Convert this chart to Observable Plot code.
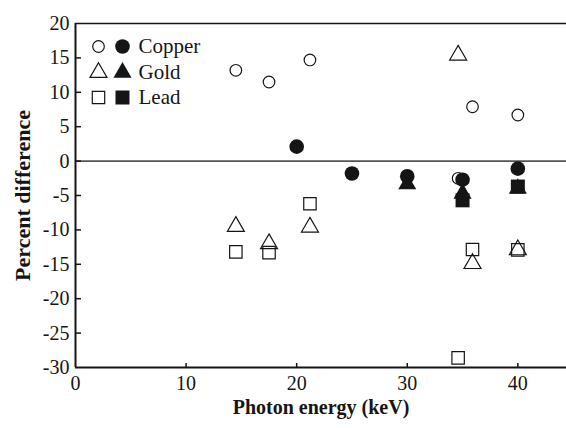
<!DOCTYPE html>
<html><head><meta charset="utf-8">
<script src="https://cdn.jsdelivr.net/npm/d3@7"></script>
<script src="https://cdn.jsdelivr.net/npm/@observablehq/plot@0.6"></script>
<style>body{margin:0;background:#fff}</style>
</head><body><div id="chart"></div>
<script>
// Open symbols: energies and values per metal
const openEnergy = [14.5, 17.5, 21.2, 34.6, 35.9, 40];
const copperOpen = [13.2, 11.5, 14.7, -2.5, 7.9, 6.7];
const goldOpen = [-9.5, -12.0, -9.6, 15.4, -14.9, -12.9];
const leadOpen = [-13.2, -13.3, -6.2, -28.6, -12.85, -12.9];
// Filled symbols
const copperFilledEnergy = [20, 25, 30, 35, 40];
const copperFilled = [2.1, -1.8, -2.2, -2.7, -1.1];
const goldFilledEnergy = [30, 35, 40];
const goldFilled = [-3.35, -4.7, -4.0];
const leadFilledEnergy = [35, 40];
const leadFilled = [-5.7, -3.7];
const seriesNames = ["Copper", "Gold", "Lead"];
const yTicks = [-30, -25, -20, -15, -10, -5, 0, 5, 10, 15, 20];
const xTicks = [0, 10, 20, 30, 40];

const ink = "#151515";
const serif = "'Liberation Serif', 'Times New Roman', Times, serif";
const W = 566, H = 428, mL = 75, mR = 0, mT = 23, mB = 61;

const toRows = (xs, ys) => xs.map((x, i) => ({x, y: ys[i]}));
const sym = {
  Copper: {symbol: "circle", rOpen: 5.8, rFill: 7.3},
  Gold: {symbol: "triangle", rOpen: 6.3, rFill: 6.7},
  Lead: {symbol: "square", rOpen: 7.0, rFill: 7.9}
};
const openData = {Copper: toRows(openEnergy, copperOpen), Gold: toRows(openEnergy, goldOpen), Lead: toRows(openEnergy, leadOpen)};
const fillData = {Copper: toRows(copperFilledEnergy, copperFilled), Gold: toRows(goldFilledEnergy, goldFilled), Lead: toRows(leadFilledEnergy, leadFilled)};
const fmt = d => String(d);

const marks = [
  Plot.ruleY([0], {stroke: "#555", strokeWidth: 1.6}),
  Plot.ruleY([20], {stroke: ink, strokeWidth: 1.6}),
  Plot.ruleY([-30], {stroke: ink, strokeWidth: 2}),
  Plot.ruleX([0], {stroke: ink, strokeWidth: 2}),
  Plot.axisY({ticks: yTicks, tickFormat: fmt, tickSize: 0, tickPadding: 6, fontSize: 20, fontFamily: serif, fontVariant: "normal", label: null, fill: ink}),
  Plot.axisY({anchor: "right", ticks: yTicks.filter(t => t > -30 && t < 20), tickSize: 5, tickFormat: () => "", dx: -(W - mL - mR), label: null, strokeWidth: 1.5}),
  Plot.axisX({ticks: xTicks, tickFormat: fmt, tickSize: 0, tickPadding: 8, fontSize: 20, fontFamily: serif, fontVariant: "normal", label: null, fill: ink}),
  Plot.axisX({anchor: "top", ticks: xTicks.filter(t => t > 0), tickSize: 5, tickFormat: () => "", dy: H - mT - mB, label: null, strokeWidth: 1.5}),
];
for (const s of seriesNames) {
  marks.push(Plot.dot(openData[s], {x: "x", y: "y", symbol: sym[s].symbol, r: sym[s].rOpen, stroke: ink, strokeWidth: 1.2, fill: "none"}));
}
for (const s of seriesNames) {
  marks.push(Plot.dot(fillData[s], {x: "x", y: "y", symbol: sym[s].symbol, r: sym[s].rFill, fill: ink, stroke: "none"}));
}
// legend
const legendDy = [23, 49, 74];
seriesNames.forEach((s, i) => {
  marks.push(Plot.dot([s], {frameAnchor: "top-left", dx: 23, dy: legendDy[i], symbol: sym[s].symbol, r: sym[s].rOpen, stroke: ink, strokeWidth: 1.2, fill: "none"}));
  marks.push(Plot.dot([s], {frameAnchor: "top-left", dx: 47, dy: legendDy[i], symbol: sym[s].symbol, r: sym[s].rFill, fill: ink}));
  marks.push(Plot.text([s], {text: d => d, frameAnchor: "top-left", dx: 63, dy: legendDy[i], textAnchor: "start", lineAnchor: "middle", fontSize: 21, fontFamily: serif, fill: ink}));
});
// titles
marks.push(Plot.text(["Photon energy (keV)"], {text: d => d, frameAnchor: "bottom", dy: 40, textAnchor: "middle", fontWeight: "bold", fontSize: 20, fontFamily: serif, lineAnchor: "middle", fill: ink}));
marks.push(Plot.text(["Percent difference"], {text: d => d, frameAnchor: "left", dx: -53, rotate: -90, textAnchor: "middle", fontWeight: "bold", fontSize: 22, fontFamily: serif, lineAnchor: "middle", fill: ink}));

const chart = Plot.plot({
  width: W, height: H,
  marginLeft: mL, marginRight: mR, marginTop: mT, marginBottom: mB,
  x: {domain: [0, 44.4]},
  y: {domain: [-30, 20]},
  style: {fontFamily: serif, fontSize: "20px", color: ink, background: "#fff", overflow: "visible"},
  marks
});
document.getElementById("chart").appendChild(chart);
</script>
</body></html>
